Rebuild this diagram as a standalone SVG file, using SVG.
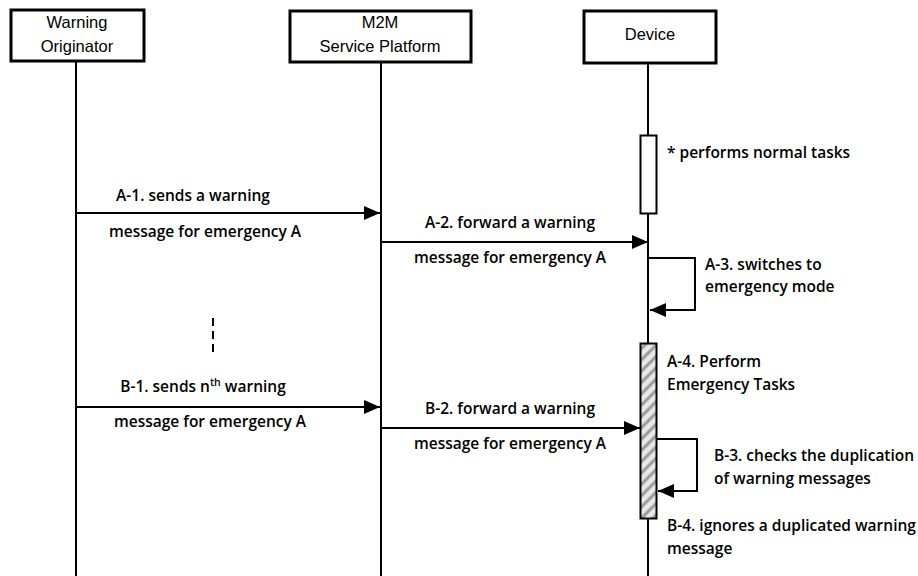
<svg xmlns="http://www.w3.org/2000/svg" width="918" height="576" viewBox="0 0 918 576">
<defs>
<style>
.box{fill:#fff;stroke:#000;stroke-width:3}
.life{stroke:#000;stroke-width:2;fill:none}
.msg{stroke:#000;stroke-width:2;fill:none}
.hd{font-family:"Liberation Sans",Arial,sans-serif;font-size:16.5px;fill:#000;text-anchor:middle}
.lb{font-family:"Open Sans","Liberation Sans",sans-serif;font-size:15.5px;font-weight:600;fill:#000}
.c{text-anchor:middle}
</style>
<marker id="ah2" viewBox="0 0 16 14" refX="16" refY="7" markerWidth="16" markerHeight="14" markerUnits="userSpaceOnUse" orient="auto">
<path d="M0,0 L16,7 L0,14 z" fill="#000"/>
</marker>
<pattern id="hatch" width="8" height="8" patternUnits="userSpaceOnUse" patternTransform="rotate(-45)">
<rect width="8" height="8" fill="#e8e8e8"/>
<line x1="0" y1="4" x2="8" y2="4" stroke="#999" stroke-width="3"/>
</pattern>
</defs>
<g id="lifelines">
<line class="life" x1="76" y1="61" x2="76" y2="576"/>
<line class="life" x1="381" y1="62" x2="381" y2="576"/>
<line class="life" x1="648" y1="63" x2="648" y2="576"/>
</g>
<g id="warning-originator">
<rect class="box" x="11" y="10" width="133" height="51"/>
<text class="hd" x="77" y="28">Warning</text>
<text class="hd" x="77" y="52">Originator</text>
</g>
<g id="m2m-platform">
<rect class="box" x="290" y="11" width="181" height="51"/>
<text class="hd" x="380" y="28">M2M</text>
<text class="hd" x="380" y="52">Service Platform</text>
</g>
<g id="device">
<rect class="box" x="584" y="11" width="132" height="52"/>
<text class="hd" x="650" y="40">Device</text>
</g>
<g id="normal-activation">
<rect x="640.500" y="135.500" width="16" height="78" fill="#fff" stroke="#000" stroke-width="2"/>
<text class="lb" x="667" y="158">* performs normal tasks</text>
</g>
<g id="emergency-activation">
<rect x="640.500" y="343.500" width="16" height="175" fill="url(#hatch)" stroke="#000" stroke-width="2"/>
<text class="lb" x="667" y="367">A-4. Perform</text>
<text class="lb" x="667" y="390">Emergency Tasks</text>
</g>
<g id="connectors">
<line class="msg" x1="76" y1="213" x2="380" y2="213" marker-end="url(#ah2)"/>
<line class="msg" x1="381" y1="242" x2="648" y2="242" marker-end="url(#ah2)"/>
<polyline class="msg" points="649,258 695,258 695,310 650,310" marker-end="url(#ah2)"/>
<line x1="213" y1="318" x2="213" y2="355" stroke="#000" stroke-width="2" stroke-dasharray="8,5"/>
<line class="msg" x1="76" y1="407" x2="380" y2="407" marker-end="url(#ah2)"/>
<line class="msg" x1="381" y1="428" x2="640" y2="428" marker-end="url(#ah2)"/>
<polyline class="msg" points="657,439 697,439 697,491 658,491" marker-end="url(#ah2)"/>
</g>
<g id="labels">
<text class="lb c" x="193" y="201">A-1. sends a warning</text>
<text class="lb c" x="205" y="237">message for emergency A</text>
<text class="lb c" x="510" y="228">A-2. forward a warning</text>
<text class="lb c" x="510" y="263">message for emergency A</text>
<text class="lb" x="705" y="270">A-3. switches to</text>
<text class="lb" x="705" y="292">emergency mode</text>
<text class="lb c" x="203" y="392">B-1. sends n<tspan font-size="10.5" dy="-6">th</tspan><tspan dy="6"> warning</tspan></text>
<text class="lb c" x="210" y="427">message for emergency A</text>
<text class="lb c" x="510" y="414">B-2. forward a warning</text>
<text class="lb c" x="510" y="449">message for emergency A</text>
<text class="lb" x="714" y="461">B-3. checks the duplication</text>
<text class="lb" x="714" y="484">of warning messages</text>
<text class="lb" x="667" y="531">B-4. ignores a duplicated warning</text>
<text class="lb" x="667" y="554">message</text>
</g>
</svg>
